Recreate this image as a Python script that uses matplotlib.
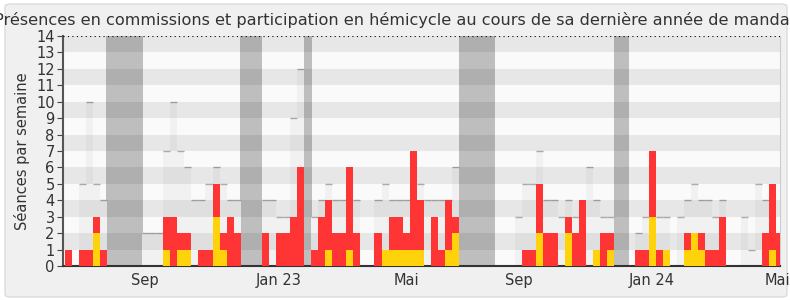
import numpy as np
import matplotlib.pyplot as plt
from matplotlib.patches import FancyBboxPatch

# one value per week, week 0 = mid June 2022
total = [1, 0, 1, 1, 3, 1, 0, 0, 0, 0, 0, 0, 0, 0, 3, 3, 2, 2, 0, 1,
         1, 5, 2, 3, 2, 0, 0, 0, 2, 0, 2, 2, 3, 6, 0, 1, 3, 4, 2, 2,
         6, 2, 0, 0, 2, 1, 3, 3, 2, 7, 4, 0, 3, 1, 4, 3, 0, 0, 0, 0,
         0, 0, 0, 0, 0, 1, 1, 5, 2, 2, 0, 3, 2, 4, 0, 1, 2, 2, 0, 0,
         0, 1, 1, 7, 1, 1, 0, 0, 2, 2, 2, 1, 1, 3, 0, 0, 0, 0, 0, 2,
         5, 2]
hemicycle = [0, 0, 0, 0, 2, 0, 0, 0, 0, 0, 0, 0, 0, 0, 1, 0, 1, 1, 0, 0,
             0, 3, 1, 0, 0, 0, 0, 0, 0, 0, 0, 0, 0, 0, 0, 0, 0, 1, 0, 0,
             1, 0, 0, 0, 0, 1, 1, 1, 1, 1, 1, 0, 0, 0, 1, 2, 0, 0, 0, 0,
             0, 0, 0, 0, 0, 0, 0, 2, 0, 0, 0, 2, 0, 0, 0, 1, 0, 1, 0, 0,
             0, 0, 0, 3, 0, 1, 0, 0, 1, 2, 1, 0, 0, 0, 0, 0, 0, 0, 0, 0,
             1, 0]
# max of the other deputies, light bars behind
max_week = [0, 0, 5, 10, 5, 4, 0, 0, 0, 0, 0, 2, 2, 2, 7, 10, 7, 6, 4, 4,
            5, 6, 5, 4, 4, 0, 0, 0, 4, 4, 3, 3, 9, 12, 0, 3, 4, 5, 4, 4,
            0, 4, 0, 0, 4, 5, 4, 4, 4, 0, 5, 4, 4, 4, 4, 6, 0, 0, 0, 0,
            0, 0, 0, 0, 3, 5, 5, 7, 4, 4, 3, 4, 3, 0, 6, 4, 3, 3, 0, 0,
            0, 2, 3, 0, 3, 3, 0, 3, 4, 5, 4, 4, 3, 4, 0, 0, 3, 1, 5, 4,
            0, 0]
vac_start = [5.9, 24.9, 34.0, 56.0, 78.0]
vac_end = [11.1, 28.0, 35.1, 61.1, 80.2]
tick_pos = [11.4, 30.4, 48.5, 64.5, 83.4, 101.3]
tick_labels = ["Sep", "Jan 23", "Mai", "Sep", "Jan 24", "Mai"]

total = np.array(total)
hemicycle = np.array(hemicycle)
max_week = np.array(max_week)
commission = total - hemicycle
x = np.arange(len(total)) + 0.5

fig = plt.figure(figsize=(7.9, 3.0), dpi=100, facecolor='white')
frame = FancyBboxPatch((5/790, 3/300), 782/790, 293/300,
                       boxstyle='round,pad=0,rounding_size=0.008',
                       transform=fig.transFigure, fc='#f0f0f0', ec='#dcdcdc', lw=1,
                       zorder=-5)
fig.patches.append(frame)

ax = fig.add_axes([63/790, 34/300, 717/790, 230/300])
ax.set_facecolor('#fafafa')

for s, e in zip(vac_start, vac_end):
    ax.axvspan(s, e, color='#bebebe', lw=0, zorder=0)

ax.bar(x, max_week, width=1, color='#f1f1f1', lw=0, zorder=0.5)
m = max_week > 0
ax.hlines(max_week[m], x[m] - 0.5, x[m] + 0.5, color='#aaaaaa', lw=1, zorder=0.6)

for i in range(1, 14, 2):
    ax.axhspan(i, i + 1, color='black', alpha=0.075, lw=0, zorder=1)

ax.bar(x, hemicycle, width=1, color='#ffd20c', lw=0, zorder=3)
ax.bar(x, commission, bottom=hemicycle, width=1, color='#ff3535', lw=0, zorder=3)

ax.axhline(14, color='black', ls=(0, (1, 3)), lw=0.8, zorder=4)

ax.set_xlim(-0.24, 101.6)
ax.set_ylim(0, 14)
ax.set_yticks(range(0, 15))
ax.set_xticks(tick_pos)
ax.set_xticklabels(tick_labels)
ax.tick_params(axis='y', length=4, color='#444444', labelsize=10.5, labelcolor='#333333', pad=2)
ax.tick_params(axis='x', length=0, labelsize=10.5, labelcolor='#333333', pad=5)
ax.spines['top'].set_visible(False)
ax.spines['left'].set_color('#555555')
ax.spines['left'].set_linewidth(1.5)
ax.spines['bottom'].set_color('#333333')
ax.spines['bottom'].set_linewidth(1.5)
ax.spines['right'].set_color('#cccccc')
ax.set_ylabel("Séances par semaine", fontsize=10.5, color='#333333', labelpad=4)

fig.text(0.5, 0.935, "Présences en commissions et participation en hémicycle au cours de sa dernière année de mandat",
         ha='center', va='center', fontsize=11.6, color='#333333')

fig.savefig('out.png', dpi=100, facecolor=fig.get_facecolor())
